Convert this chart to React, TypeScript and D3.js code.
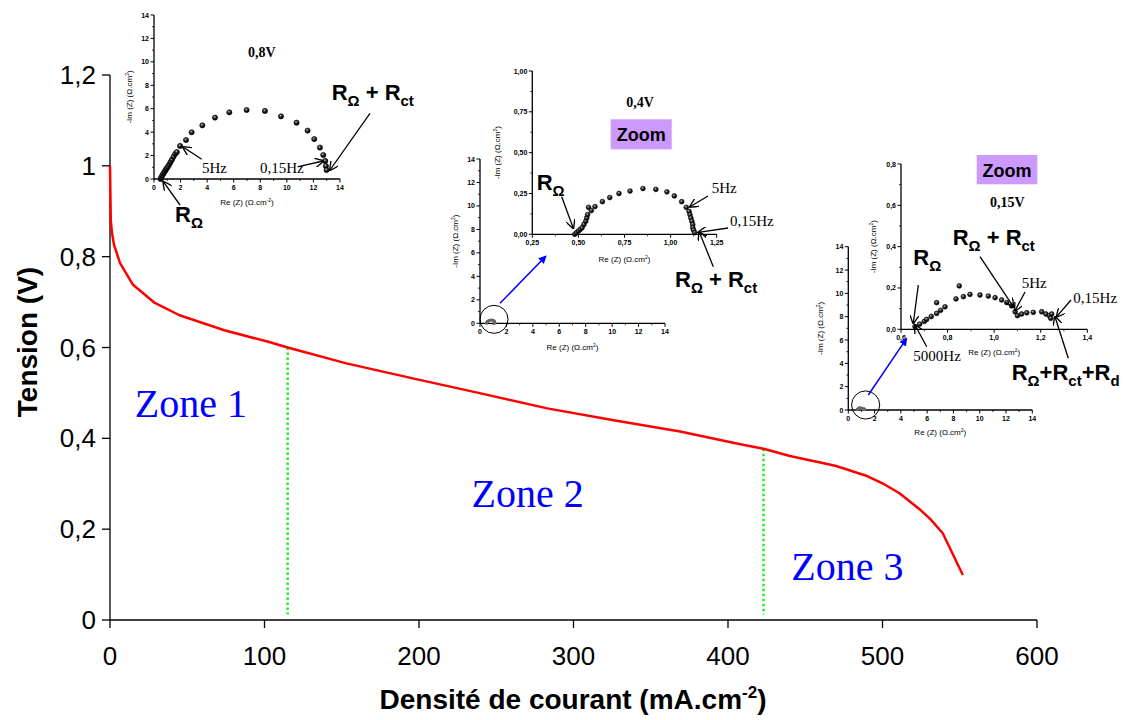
import React from "react";
import * as d3 from "d3";

// ---------- Main polarisation curve ----------
const currentDensity = [0, 0.5, 1.3, 2.6, 6.5, 14.9, 29, 45, 74, 103, 115, 153, 196, 240, 283, 326, 369, 408, 423, 440, 462, 470, 490, 500, 511, 525, 531, 539, 552];
const tension = [1.0, 0.88, 0.852, 0.826, 0.786, 0.738, 0.698, 0.671, 0.638, 0.612, 0.600, 0.565, 0.532, 0.499, 0.466, 0.440, 0.415, 0.387, 0.377, 0.361, 0.345, 0.339, 0.317, 0.301, 0.279, 0.241, 0.222, 0.191, 0.099];
const xTicks = [0, 100, 200, 300, 400, 500, 600];
const yTicks = [0, 0.2, 0.4, 0.6, 0.8, 1.0, 1.2];
const boundaryJ = [115, 423];
const boundaryVTop = [0.600, 0.377];
const zoneLabels = ["Zone 1", "Zone 2", "Zone 3"];
const zoneJ = [16, 234, 441];
const zoneV = [0.447, 0.249, 0.088];

// ---------- Nyquist 0,8V ----------
const nyq08Re = [0.5, 0.55, 0.62, 0.7, 0.78, 0.87, 0.95, 1.05, 1.15, 1.25, 1.35, 1.47, 1.6, 1.72, 1.96, 2.41, 2.83, 3.64, 4.59, 5.67, 6.97, 8.35, 9.56, 10.73, 11.56, 12.06, 12.49, 12.74, 12.89, 12.94, 12.99];
const nyq08Im = [0.0, 0.15, 0.3, 0.45, 0.6, 0.75, 0.9, 1.05, 1.25, 1.45, 1.65, 1.9, 2.15, 2.3, 2.82, 3.33, 3.99, 4.58, 5.24, 5.69, 5.89, 5.81, 5.35, 4.81, 4.13, 3.41, 2.68, 2.05, 1.54, 1.11, 0.77];

// ---------- Nyquist 0,4V ----------
const nyq04Re = [0.48, 0.49, 0.50, 0.51, 0.52, 0.53, 0.54, 0.545, 0.55, 0.555, 0.57, 0.59, 0.63, 0.67, 0.72, 0.78, 0.85, 0.92, 0.98, 1.02, 1.06, 1.085, 1.10, 1.105, 1.11, 1.115, 1.12, 1.12, 1.125, 1.13];
const nyq04Im = [0.0, 0.01, 0.02, 0.03, 0.04, 0.06, 0.08, 0.10, 0.12, 0.165, 0.145, 0.17, 0.20, 0.225, 0.25, 0.265, 0.28, 0.275, 0.26, 0.235, 0.20, 0.165, 0.14, 0.12, 0.10, 0.08, 0.06, 0.04, 0.025, 0.01];

// ---------- Nyquist 0,15V ----------
const nyq015Re = [0.66, 0.68, 0.70, 0.71, 0.73, 0.753, 0.77, 0.789, 0.753, 0.836, 0.85, 0.868, 0.896, 0.939, 0.975, 1.004, 1.032, 1.054, 1.075, 1.09, 1.10, 1.118, 1.14, 1.168, 1.204, 1.222, 1.237, 1.247, 1.243];
const nyq015Im = [0.013, 0.025, 0.038, 0.048, 0.062, 0.077, 0.092, 0.109, 0.129, 0.147, 0.21, 0.158, 0.169, 0.166, 0.161, 0.153, 0.142, 0.129, 0.113, 0.085, 0.066, 0.074, 0.080, 0.082, 0.085, 0.074, 0.066, 0.074, 0.053];

const SANS = "'Liberation Sans', Arial, sans-serif";
const SERIF = "'Liberation Serif', 'Times New Roman', serif";

const commaFmt = (d: number, digits: number) => d.toFixed(digits).replace(".", ",");
const mainFmt = (d: number) => String(+d.toFixed(1)).replace(".", ",");

type Seg = { t: string; sub?: boolean };
function RText({ x, y, segs, size = 22 }: { x: number; y: number; segs: Seg[]; size?: number }) {
  const shift = size * 0.28;
  let cur = 0;
  const out: any[] = [];
  segs.forEach((s, i) => {
    const target = s.sub ? shift : 0;
    const dy = target - cur;
    cur = target;
    out.push(
      <tspan key={i} dy={dy} fontSize={s.sub ? size * 0.68 : size}>{s.t}</tspan>
    );
  });
  return (
    <text x={x} y={y} fontFamily={SANS} fontWeight="bold" fontSize={size} fill="#000">{out}</text>
  );
}

const R_OHM: Seg[] = [{ t: "R" }, { t: "Ω", sub: true }];
const R_OHM_CT: Seg[] = [{ t: "R" }, { t: "Ω", sub: true }, { t: " + R" }, { t: "ct", sub: true }];
const R_FULL: Seg[] = [{ t: "R" }, { t: "Ω", sub: true }, { t: "+R" }, { t: "ct", sub: true }, { t: "+R" }, { t: "d", sub: true }];

function Arrow({ x1, y1, x2, y2, color = "#000", w = 1.3 }: any) {
  return (
    <line x1={x1} y1={y1} x2={x2} y2={y2} stroke={color} strokeWidth={w}
      markerEnd={color === "#000" ? "url(#arrBlack)" : "url(#arrBlue)"} />
  );
}

function Nyq(props: any) {
  const { L, R, T, B, xd, yd, xt, yt, xm, ym, fmtX, fmtY, re, im, r, gray, ylabDx, xlabDy, xsup, circle } = props;
  const sx = d3.scaleLinear().domain(xd).range([L, R]);
  const sy = d3.scaleLinear().domain(yd).range([B, T]);
  return (
    <g>
      {xm.map((v: number, i: number) => (
        <line key={"xm" + i} x1={sx(v)} x2={sx(v)} y1={B} y2={B + 2} stroke="#000" strokeWidth={0.8} />
      ))}
      {ym.map((v: number, i: number) => (
        <line key={"ym" + i} x1={L - 2} x2={L} y1={sy(v)} y2={sy(v)} stroke="#000" strokeWidth={0.8} />
      ))}
      {xt.map((v: number, i: number) => (
        <g key={"xt" + i}>
          <line x1={sx(v)} x2={sx(v)} y1={B} y2={B + 3.5} stroke="#000" strokeWidth={1} />
          <text x={sx(v)} y={B + 11} textAnchor="middle" fontFamily={SANS} fontWeight="bold" fontSize={7}>{fmtX(v)}</text>
        </g>
      ))}
      {yt.map((v: number, i: number) => (
        <g key={"yt" + i}>
          <line x1={L - 3.5} x2={L} y1={sy(v)} y2={sy(v)} stroke="#000" strokeWidth={1} />
          <text x={L - 5} y={sy(v) + 2.5} textAnchor="end" fontFamily={SANS} fontWeight="bold" fontSize={7}>{fmtY(v)}</text>
        </g>
      ))}
      <line x1={L} y1={T} x2={L} y2={B} stroke="#000" strokeWidth={1.3} />
      <line x1={L} y1={B} x2={R} y2={B} stroke="#000" strokeWidth={1.3} />
      <text transform={`translate(${L - ylabDx},${(T + B) / 2}) rotate(-90)`} textAnchor="middle" fontFamily={SANS} fontSize={8}>
        -Im (Z) (Ω.cm<tspan dy={-3} fontSize={5}>2</tspan><tspan dy={3}>)</tspan>
      </text>
      <text x={(L + R) / 2} y={B + xlabDy} textAnchor="middle" fontFamily={SANS} fontSize={8}>
        Re (Z) (Ω.cm<tspan dy={-3} fontSize={5}>{xsup}</tspan><tspan dy={3}>)</tspan>
      </text>
      {circle && (
        <circle cx={sx(circle[0])} cy={sy(circle[1])} r={sx(circle[2]) - sx(0)} fill="none" stroke="#000" strokeWidth={1} />
      )}
      {re.map((v: number, i: number) =>
        gray ? (
          <circle key={"p" + i} cx={sx(v)} cy={sy(im[i])} r={r} fill="#666" />
        ) : (
          <circle key={"p" + i} cx={sx(v)} cy={sy(im[i])} r={r} fill="url(#ball)" stroke="#000" strokeWidth={0.6} />
        )
      )}
    </g>
  );
}

const range = (a: number, b: number, s: number) => d3.range(a, b + s / 2, s).map((v) => +v.toFixed(4));

export default function App() {
  const x = d3.scaleLinear().domain([0, 600]).range([110, 1037]);
  const y = d3.scaleLinear().domain([0, 1.2]).range([620, 75]);
  const pts = currentDensity.map((d, i) => [d, tension[i]] as [number, number]);
  const line = d3.line<[number, number]>().x((d) => x(d[0])).y((d) => y(d[1]));

  const f0 = (d: number) => String(d);

  return (
    <svg width={1125} height={720} style={{ position: "absolute", left: 0, top: 0, background: "#fff" }}>
      <defs>
        <radialGradient id="ball" cx="40%" cy="35%" r="60%">
          <stop offset="0%" stopColor="#ccc" />
          <stop offset="30%" stopColor="#555" />
          <stop offset="70%" stopColor="#111" />
          <stop offset="100%" stopColor="#000" />
        </radialGradient>
        <marker id="arrBlack" viewBox="0 0 10 10" refX={9} refY={5} markerWidth={9} markerHeight={9} markerUnits="userSpaceOnUse" orient="auto">
          <path d="M0,0 L10,5 L0,10" fill="none" stroke="#000" strokeWidth={1.5} />
        </marker>
        <marker id="arrBlue" viewBox="0 0 10 10" refX={9} refY={5} markerWidth={8} markerHeight={8} markerUnits="userSpaceOnUse" orient="auto">
          <path d="M0,0 L10,5 L0,10 Z" fill="#0000ff" />
        </marker>
      </defs>

      {/* main axes */}
      <line x1={110} y1={y(1.2)} x2={110} y2={620} stroke="#000" strokeWidth={1.3} />
      <line x1={110} y1={620} x2={1037} y2={620} stroke="#000" strokeWidth={1.3} />
      {yTicks.map((t, i) => (
        <g key={"yt" + i}>
          <line x1={102} x2={110} y1={y(t)} y2={y(t)} stroke="#000" strokeWidth={1.3} />
          <text x={96} y={y(t) + 9} textAnchor="end" fontFamily={SANS} fontSize={26}>{mainFmt(t)}</text>
        </g>
      ))}
      {xTicks.map((t, i) => (
        <g key={"xt" + i}>
          <line x1={x(t)} x2={x(t)} y1={620} y2={628} stroke="#000" strokeWidth={1.3} />
          <text x={x(t)} y={665} textAnchor="middle" fontFamily={SANS} fontSize={26}>{String(t)}</text>
        </g>
      ))}
      <text transform={`translate(37,342) rotate(-90)`} textAnchor="middle" fontFamily={SANS} fontWeight="bold" fontSize={28}>Tension (V)</text>
      <text x={573} y={709} textAnchor="middle" fontFamily={SANS} fontWeight="bold" fontSize={28}>
        Densité de courant (mA.cm<tspan dy={-11} fontSize={17}>-2</tspan><tspan dy={11}>)</tspan>
      </text>

      {/* zone boundaries */}
      {boundaryJ.map((b, i) => (
        <line key={"b" + i} x1={x(b)} x2={x(b)} y1={y(boundaryVTop[i])} y2={y(0.012)} stroke="#22ee22" strokeWidth={2.5} strokeDasharray="2.5,2.5" />
      ))}
      {zoneLabels.map((z, i) => (
        <text key={z} x={x(zoneJ[i])} y={y(zoneV[i])} fontFamily={SERIF} fontSize={40} fill="#0000ff">{z}</text>
      ))}

      <path d={line(pts) || ""} fill="none" stroke="#ff0000" strokeWidth={2.5} strokeLinejoin="round" />

      {/* Inset 0,8V */}
      <Nyq L={154} R={340} T={15} B={179} xd={[0, 14]} yd={[0, 14]}
        xt={range(0, 14, 2)} yt={range(0, 14, 2)} xm={range(1, 13, 2)} ym={range(1, 13, 2)}
        fmtX={f0} fmtY={f0} re={nyq08Re} im={nyq08Im} r={2.6} ylabDx={22} xlabDy={26} xsup="-2" />
      <text x={248} y={57} fontFamily={SERIF} fontWeight="bold" fontSize={14}>0,8V</text>
      <text x={202} y={173} fontFamily={SERIF} fontSize={15}>5Hz</text>
      <text x={260} y={173} fontFamily={SERIF} fontSize={15}>0,15Hz</text>
      <Arrow x1={201.7} y1={159.3} x2={183} y2={147} />
      <Arrow x1={298.3} y1={166.7} x2={323.3} y2={161} />
      <Arrow x1={180} y1={205} x2={163.3} y2={181.7} />
      <Arrow x1={370} y1={113.3} x2={330} y2={170} />
      <RText x={175} y={222} segs={R_OHM} />
      <RText x={331.7} y={100} segs={R_OHM_CT} />

      {/* Inset 0,4V */}
      <Nyq L={480} R={665} T={159} B={323.3} xd={[0, 14]} yd={[0, 14]}
        xt={range(0, 14, 2)} yt={range(0, 14, 2)} xm={range(1, 13, 2)} ym={range(1, 13, 2)}
        fmtX={f0} fmtY={f0} re={nyq04Re} im={nyq04Im} r={1.4} gray ylabDx={22} xlabDy={27} xsup="2"
        circle={[1.06, 0.34, 1.06]} />
      <Nyq L={532.3} R={716.7} T={71} B={234.3} xd={[0.25, 1.25]} yd={[0, 1]}
        xt={range(0.25, 1.25, 0.25)} yt={range(0, 1, 0.25)} xm={range(0.375, 1.125, 0.25)} ym={range(0.125, 0.875, 0.25)}
        fmtX={(d: number) => commaFmt(d, 2)} fmtY={(d: number) => commaFmt(d, 2)} re={nyq04Re} im={nyq04Im} r={2.4}
        ylabDx={32} xlabDy={28} xsup="2" />
      <Arrow x1={500} y1={303.3} x2={546} y2={256} color="#0000ff" w={1.5} />
      <text x={640} y={107} textAnchor="middle" fontFamily={SERIF} fontWeight="bold" fontSize={14}>0,4V</text>
      <rect x={610.7} y={119.3} width={61} height={30} fill="#cc99ff" />
      <text x={641.2} y={141} textAnchor="middle" fontFamily={SANS} fontWeight="bold" fontSize={18}>Zoom</text>
      <text x={711.7} y={193.3} fontFamily={SERIF} fontSize={15}>5Hz</text>
      <text x={730} y={225.7} fontFamily={SERIF} fontSize={15}>0,15Hz</text>
      <Arrow x1={561.7} y1={196.7} x2={573.3} y2={228.3} />
      <Arrow x1={708} y1={196} x2={690} y2={206.7} />
      <Arrow x1={728} y1={228} x2={698.3} y2={232.3} />
      <Arrow x1={713.3} y1={266.7} x2={699.3} y2={232} />
      <RText x={536.7} y={190} segs={R_OHM} />
      <RText x={675} y={286.7} segs={R_OHM_CT} />

      {/* Inset 0,15V */}
      <Nyq L={848.3} R={1032.3} T={246.7} B={410} xd={[0, 14]} yd={[0, 14]}
        xt={range(0, 14, 2)} yt={range(0, 14, 2)} xm={range(1, 13, 2)} ym={range(1, 13, 2)}
        fmtX={f0} fmtY={f0} re={nyq015Re} im={nyq015Im} r={1.4} gray ylabDx={25} xlabDy={25} xsup="2"
        circle={[1.32, 0.43, 1.07]} />
      <Nyq L={901} R={1087.3} T={164} B={329.3} xd={[0.6, 1.4]} yd={[0, 0.8]}
        xt={range(0.6, 1.4, 0.2)} yt={range(0, 0.8, 0.2)} xm={range(0.7, 1.3, 0.2)} ym={range(0.1, 0.7, 0.2)}
        fmtX={(d: number) => commaFmt(d, 1)} fmtY={(d: number) => commaFmt(d, 1)} re={nyq015Re} im={nyq015Im} r={2.4}
        ylabDx={25} xlabDy={26} xsup="2" />
      <Arrow x1={868.3} y1={395} x2={906.7} y2={338.3} color="#0000ff" w={1.5} />
      <rect x={976.7} y={155} width={60.6} height={29.3} fill="#cc99ff" />
      <text x={1007} y={176.5} textAnchor="middle" fontFamily={SANS} fontWeight="bold" fontSize={18}>Zoom</text>
      <text x={1007.3} y={207.3} textAnchor="middle" fontFamily={SERIF} fontWeight="bold" fontSize={14}>0,15V</text>
      <text x={1021.7} y={288.3} fontFamily={SERIF} fontSize={15}>5Hz</text>
      <text x={1073.3} y={303.3} fontFamily={SERIF} fontSize={15}>0,15Hz</text>
      <text x={913.3} y={360.7} fontFamily={SERIF} fontSize={15}>5000Hz</text>
      <Arrow x1={980} y1={256.7} x2={1013.3} y2={306.7} />
      <Arrow x1={918.3} y1={285} x2={913.3} y2={323.3} />
      <Arrow x1={1025} y1={292} x2={1015} y2={310.7} />
      <Arrow x1={1071} y1={300} x2={1056.7} y2={316.7} />
      <Arrow x1={926.7} y1={346.7} x2={915} y2={325} />
      <Arrow x1={1068.3} y1={358.3} x2={1055} y2={316.7} />
      <RText x={952.7} y={245} segs={R_OHM_CT} />
      <RText x={913.3} y={265} segs={R_OHM} />
      <RText x={1011.7} y={380} segs={R_FULL} />
    </svg>
  );
}
